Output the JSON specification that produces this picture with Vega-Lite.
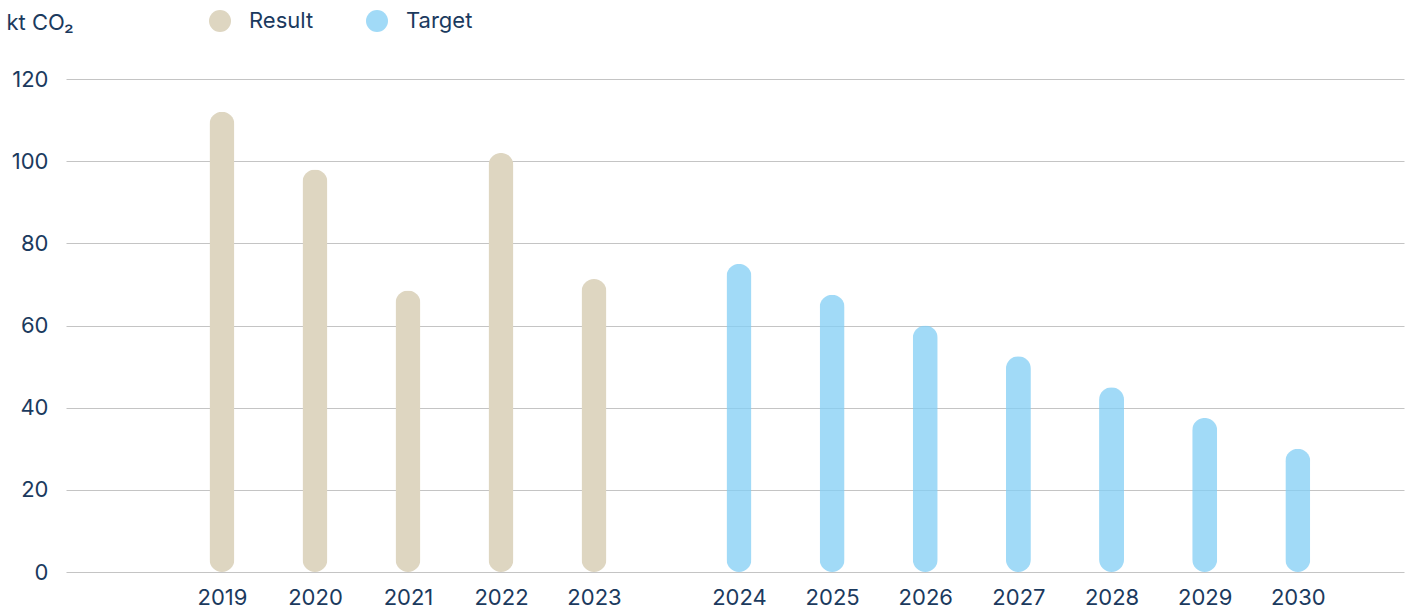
{
  "$schema": "https://vega.github.io/schema/vega-lite/v6.json",
  "width": 1338,
  "height": 493,
  "autosize": {"type": "none"},
  "padding": {"left": 66, "top": 79, "right": 7, "bottom": 40},
  "background": "white",
  "config": {
    "view": {"stroke": null},
    "font": "Inter",
    "axis": {"labelFont": "Inter", "labelColor": "#1B3A5E", "labelFontSize": 22, "titleFont": "Inter", "titleColor": "#1B3A5E"},
    "legend": {"labelFont": "Inter", "labelColor": "#1B3A5E", "labelFontSize": 22}
  },
  "data": {
    "values": [
      {"year": 2019, "series": "Result", "value": 112},
      {"year": 2020, "series": "Result", "value": 98},
      {"year": 2021, "series": "Result", "value": 68.5},
      {"year": 2022, "series": "Result", "value": 102},
      {"year": 2023, "series": "Result", "value": 71.3},
      {"year": 2024, "series": "Target", "value": 75},
      {"year": 2025, "series": "Target", "value": 67.5},
      {"year": 2026, "series": "Target", "value": 60},
      {"year": 2027, "series": "Target", "value": 52.5},
      {"year": 2028, "series": "Target", "value": 45},
      {"year": 2029, "series": "Target", "value": 37.5},
      {"year": 2030, "series": "Target", "value": 30}
    ]
  },
  "mark": {"type": "bar", "width": 25, "cornerRadius": 12.5},
  "encoding": {
    "x": {
      "field": "year",
      "type": "quantitative",
      "scale": {"domain": [2017.323, 2023, 2024, 2031.14], "range": [0, 528, 673, 1338], "nice": false, "zero": false, "padding": 0},
      "axis": {
        "values": [2019, 2020, 2021, 2022, 2023, 2024, 2025, 2026, 2027, 2028, 2029, 2030],
        "format": "d",
        "title": null,
        "grid": false,
        "ticks": false,
        "domain": false,
        "labelPadding": 15,
        "labelFontSize": 22,
        "labelFlush": false
      }
    },
    "y": {
      "field": "value",
      "type": "quantitative",
      "scale": {"domain": [0, 120], "nice": false},
      "axis": {
        "values": [0, 20, 40, 60, 80, 100, 120],
        "title": "kt CO₂",
        "titleAngle": 0,
        "titleAlign": "left",
        "titleBaseline": "middle",
        "titleX": -60,
        "titleY": -57,
        "titleFontSize": 22,
        "titleFontWeight": "normal",
        "ticks": false,
        "domain": false,
        "labelPadding": 18,
        "gridColor": "#C4C4C4",
        "gridWidth": 1
      }
    },
    "color": {
      "field": "series",
      "type": "nominal",
      "scale": {"domain": ["Result", "Target"], "range": ["#DED6C1", "#84CFF5"]},
      "legend": {
        "title": null,
        "orient": "none",
        "direction": "horizontal",
        "legendX": 143,
        "legendY": -69,
        "symbolType": "circle",
        "symbolSize": 484,
        "symbolStrokeWidth": 0,
        "symbolOpacity": 1,
        "labelOffset": 18,
        "columnPadding": 52,
        "labelFontSize": 22
      }
    },
    "opacity": {
      "field": "series",
      "type": "nominal",
      "scale": {"domain": ["Result", "Target"], "range": [1, 0.76]},
      "legend": null
    }
  }
}
